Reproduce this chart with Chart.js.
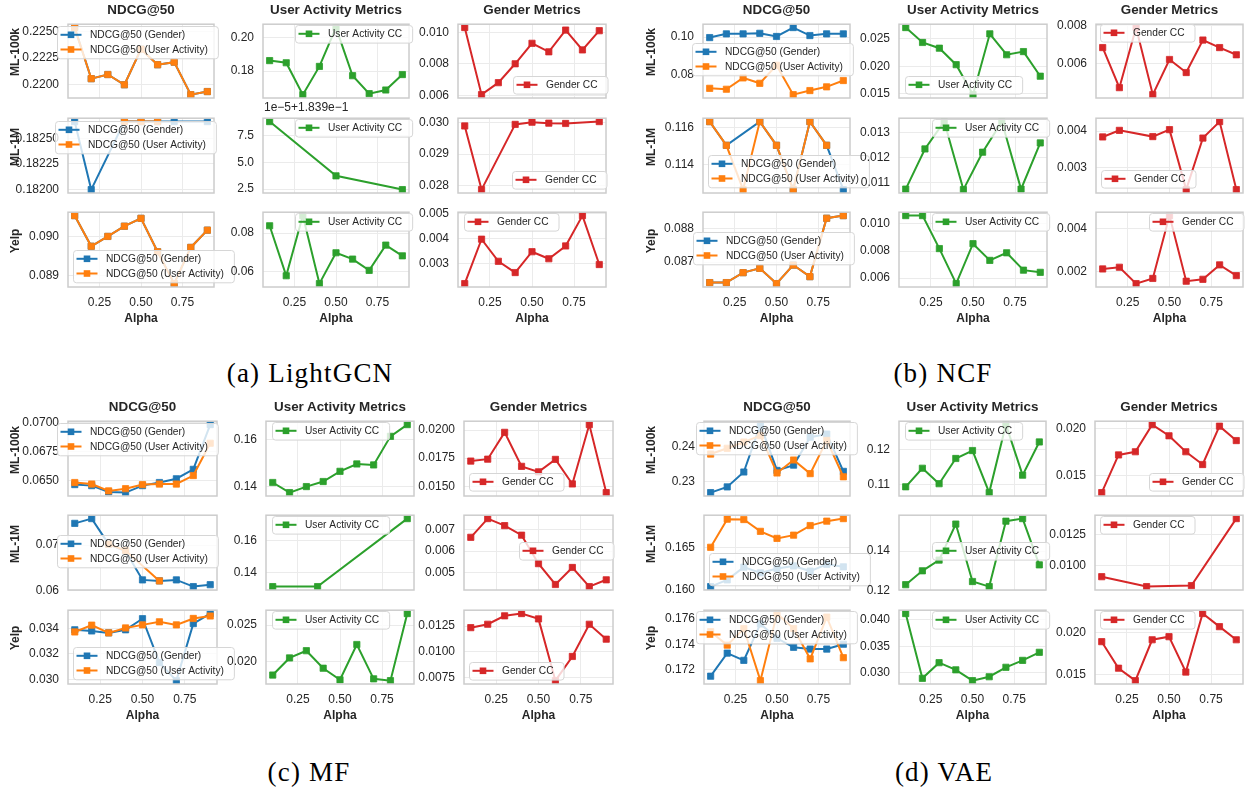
<!DOCTYPE html>
<html>
<head>
<meta charset="utf-8">
<script src="https://cdn.jsdelivr.net/npm/chart.js@4.4.1/dist/chart.umd.min.js"></script>
<style>
body { margin: 0; background: #fff; }
#fig { position: relative; width: 1247px; height: 788px; overflow: hidden; font-family: "Liberation Sans", Arial, sans-serif; color: #262626; }
#fig canvas { position: absolute; }
.t { position: absolute; white-space: nowrap; transform: translate(-50%, -50%); }
.title { font-weight: bold; font-size: 13.4px; }
.row { font-weight: bold; font-size: 12px; transform: translate(-50%, -50%) rotate(-90deg); }
.xl { font-weight: bold; font-size: 12px; }
.cap { font-family: "Liberation Serif", serif; font-size: 27px; letter-spacing: 1.2px; color: #000; }
.off { position: absolute; font-size: 12px; white-space: nowrap; transform: translateY(-50%); }
</style>
</head>
<body>
<div id="fig"></div>
<script>
// x values (alpha)
const alpha = [0.1, 0.2, 0.3, 0.4, 0.5, 0.6, 0.7, 0.8, 0.9]
const alphaThree = [0.1, 0.5, 0.9]
const alphaSparse = [0.1, 0.3667, 0.9]
const alphaEight = [0.1, 0.2143, 0.3286, 0.4429, 0.5571, 0.6714, 0.7857, 0.9]
const alphaFour = [0.1, 0.3667, 0.6333, 0.9]
const xTicks = [0.25, 0.5, 0.75]
const xTickLabels = ["0.25", "0.50", "0.75"]

const datasetNames = ["ML-100k", "ML-1M", "Yelp"]
const columnTitles = ["NDCG@50", "User Activity Metrics", "Gender Metrics"]
const modelNames = ["(a) LightGCN", "(b) NCF", "(c) MF", "(d) VAE"]

// ---- LightGCN
const lgcnMl100kNdcgGender = [0.22537, 0.22057, 0.22096, 0.22000, 0.22334, 0.22188, 0.22212, 0.21907, 0.21936]
const lgcnMl100kNdcgActivity = [0.22537, 0.22057, 0.22096, 0.22000, 0.22334, 0.22188, 0.22212, 0.21907, 0.21936]
const lgcnMl100kActivityCC = [0.1863, 0.1850, 0.1658, 0.1828, 0.2062, 0.1772, 0.1664, 0.1686, 0.1779]
const lgcnMl100kGenderCC = [0.0103, 0.00604, 0.0068, 0.0080, 0.0093, 0.00876, 0.01014, 0.00888, 0.0101]
const lgcnMl1mNdcgGender = [0.182662, 0.182000, null, 0.182662, 0.182662, 0.182662, 0.182662, null, 0.182662]
const lgcnMl1mNdcgActivity = [null, null, null, 0.182662, 0.182662, 0.182662, null, null, null]
const lgcnMl1mActivityCC = [0.1839882, 0.1839374, 0.1839245]
const lgcnMl1mGenderCC = [0.0299, 0.02786, null, 0.02995, 0.03002, 0.02999, 0.02998, null, 0.03004]
const lgcnYelpNdcgGender = [0.09053, 0.08975, 0.0900, 0.09026, 0.09046, 0.08961, 0.0888, 0.08972, 0.09016]
const lgcnYelpNdcgActivity = [0.09053, 0.08975, 0.0900, 0.09026, 0.09046, 0.08961, 0.0888, 0.08972, 0.09016]
const lgcnYelpActivityCC = [0.0838, 0.0577, 0.0891, 0.0536, 0.0697, 0.0664, 0.0605, 0.0737, 0.0681]
const lgcnYelpGenderCC = [0.0022, 0.00397, 0.00309, 0.00264, 0.00347, 0.00319, 0.0037, 0.00491, 0.00296]

// ---- NCF
const ncfMl100kNdcgGender = [0.0997, 0.1017, 0.1017, 0.1020, 0.1003, 0.1051, 0.1008, 0.1017, 0.1017]
const ncfMl100kNdcgActivity = [0.0724, 0.0719, 0.0780, 0.0751, 0.0848, 0.0690, 0.0712, 0.0732, 0.0766]
const ncfMl100kActivityCC = [0.02697, 0.02428, 0.02325, 0.02028, 0.01488, 0.02584, 0.02207, 0.02264, 0.0182]
const ncfMl100kGenderCC = [0.00684, 0.00472, 0.0079, 0.00435, 0.00621, 0.00552, 0.00724, 0.00684, 0.00646]
const ncfMl1mNdcgGender = [0.11634, 0.11505, null, 0.11634, 0.11505, 0.11264, 0.11634, 0.11505, 0.11264]
const ncfMl1mNdcgActivity = [0.11634, 0.11505, 0.11264, 0.11634, 0.11505, 0.11264, 0.11634, 0.11505, null]
const ncfMl1mActivityCC = [0.01075, 0.01235, 0.01344, 0.01073, 0.01222, 0.01344, 0.01075, 0.01259]
const ncfMl1mGenderCC = [0.00384, 0.00402, null, 0.00385, 0.00404, 0.0024, 0.00381, 0.00426, 0.0024]
const ncfYelpNdcgGender = [0.08638, 0.08638, 0.08668, 0.08681, 0.08635, 0.08691, 0.08656, 0.08832, 0.0884]
const ncfYelpNdcgActivity = [0.08638, 0.08638, 0.08668, 0.08681, 0.08635, 0.08691, 0.08656, 0.08832, 0.0884]
const ncfYelpActivityCC = [0.01061, 0.01061, 0.00818, 0.0056, 0.00854, 0.00731, 0.00787, 0.00659, 0.00643]
const ncfYelpGenderCC = [0.00213, 0.00221, 0.00145, 0.00169, 0.00461, 0.00156, 0.00165, 0.00232, 0.00182]

// ---- MF
const mfMl100kNdcgGender = [0.06462, 0.06453, 0.06398, 0.06392, 0.06453, 0.0648, 0.06513, 0.06595, 0.06986]
const mfMl100kNdcgActivity = [0.0648, 0.06467, 0.06407, 0.06426, 0.06462, 0.06467, 0.06467, 0.06541, 0.06823]
const mfMl100kActivityCC = [0.14174, 0.13744, 0.14, 0.14215, 0.14649, 0.14961, 0.1492, 0.16137, 0.16636]
const mfMl100kGenderCC = [0.01724, 0.01741, 0.0198, 0.01677, 0.01628, 0.01739, 0.0152, 0.02049, 0.01443]
const mfMl1mNdcgGender = [0.0748, 0.07585, 0.07021, 0.06867, 0.06233, 0.06211, 0.06233, 0.06085, 0.06127]
const mfMl1mNdcgActivity = [null, null, 0.0702, 0.0688, null, 0.0621, null, null, null]
const mfMl1mActivityCC = [0.1314, 0.1314, 0.174]
const mfMl1mGenderCC = [0.00665, 0.00753, 0.0072, 0.00675, 0.00541, 0.00443, 0.00523, 0.00433, 0.00465]
const mfYelpNdcgGender = [0.03388, 0.03379, 0.03364, 0.03388, 0.03474, 0.03133, 0.02993, 0.03436, 0.03514]
const mfYelpNdcgActivity = [0.03371, 0.03424, 0.03364, 0.03402, 0.03426, 0.0345, 0.03426, 0.03476, 0.03495]
const mfYelpActivityCC = [0.01817, 0.02051, 0.0215, 0.0191, 0.01752, 0.02235, 0.01765, 0.0174, 0.02659]
const mfYelpGenderCC = [0.01235, 0.01268, 0.0135, 0.01372, 0.0132, 0.0072, 0.00955, 0.01268, 0.01123]

// ---- VAE
const vaeMl100kNdcgGender = [0.22681, 0.22845, 0.23273, 0.24636, 0.23318, 0.23471, 0.24273, 0.24363, 0.23291]
const vaeMl100kNdcgActivity = [0.2379, 0.23955, 0.24136, 0.24318, 0.23245, 0.23618, 0.23227, 0.24182, 0.23136]
const vaeMl100kActivityCC = [0.1094, 0.11464, 0.11027, 0.1174, 0.11964, 0.10776, 0.12697, 0.11268, 0.12206]
const vaeMl100kGenderCC = [0.0132, 0.01721, 0.01755, 0.02044, 0.01925, 0.01755, 0.01619, 0.02027, 0.01874]
const vaeMl1mNdcgGender = [0.16037, 0.16116, 0.16266, 0.16199, 0.1625, 0.1628, 0.1622, 0.1630, 0.1627]
const vaeMl1mNdcgActivity = [0.165, 0.16831, 0.16827, 0.16688, 0.16605, 0.16643, 0.16756, 0.16808, 0.16838]
const vaeMl1mActivityCC = [0.12293, 0.13, 0.13546, 0.1538, 0.12454, 0.12195, 0.15527, 0.15659, 0.13302]
const vaeMl1mGenderCC = [0.0091, 0.0083, 0.00838, 0.01379]
const vaeYelpNdcgGender = [0.17148, 0.1733, 0.17273, 0.1756, 0.17447, 0.17376, 0.17362, 0.17362, 0.174]
const vaeYelpNdcgActivity = [0.17499, 0.17393, 0.17524, 0.17113, 0.17642, 0.17524, 0.17285, 0.17614, 0.17294]
const vaeYelpActivityCC = [0.04119, 0.02892, 0.03188, 0.03053, 0.02848, 0.02922, 0.03101, 0.03232, 0.03385]
const vaeYelpGenderCC = [0.01895, 0.01575, 0.01425, 0.01918, 0.01955, 0.01529, 0.02234, 0.02076, 0.01918]

// y tick labels, [row][column]
const lgcnTickLabels = [
  [["0.2200", "0.2225", "0.2250"], ["0.18", "0.20"], ["0.006", "0.008", "0.010"]],
  [["0.18200", "0.18225", "0.18250"], ["2.5", "5.0", "7.5"], ["0.028", "0.029", "0.030"]],
  [["0.089", "0.090"], ["0.06", "0.08"], ["0.003", "0.004", "0.005"]]
]
const ncfTickLabels = [
  [["0.08", "0.10"], ["0.015", "0.020", "0.025"], ["0.006", "0.008"]],
  [["0.114", "0.116"], ["0.011", "0.012", "0.013"], ["0.003", "0.004"]],
  [["0.087", "0.088"], ["0.006", "0.008", "0.010"], ["0.002", "0.004"]]
]
const mfTickLabels = [
  [["0.0650", "0.0675", "0.0700"], ["0.14", "0.16"], ["0.0150", "0.0175", "0.0200"]],
  [["0.06", "0.07"], ["0.14", "0.16"], ["0.005", "0.006", "0.007"]],
  [["0.030", "0.032", "0.034"], ["0.020", "0.025"], ["0.0075", "0.0100", "0.0125"]]
]
const vaeTickLabels = [
  [["0.23", "0.24"], ["0.11", "0.12"], ["0.015", "0.020"]],
  [["0.160", "0.165"], ["0.12", "0.14"], ["0.0100", "0.0125"]],
  [["0.172", "0.174", "0.176"], ["0.030", "0.035", "0.040"], ["0.015", "0.020"]]
]

function s(xs, ys) { return { xs: xs, ys: ys } }

let allRows = [
  [
    [s(alpha, lgcnMl100kNdcgGender), s(alpha, lgcnMl100kNdcgActivity), s(alpha, lgcnMl100kActivityCC), s(alpha, lgcnMl100kGenderCC)],
    [s(alpha, lgcnMl1mNdcgGender), s(alpha, lgcnMl1mNdcgActivity), s(alphaThree, lgcnMl1mActivityCC), s(alpha, lgcnMl1mGenderCC)],
    [s(alpha, lgcnYelpNdcgGender), s(alpha, lgcnYelpNdcgActivity), s(alpha, lgcnYelpActivityCC), s(alpha, lgcnYelpGenderCC)]
  ],
  [
    [s(alpha, ncfMl100kNdcgGender), s(alpha, ncfMl100kNdcgActivity), s(alpha, ncfMl100kActivityCC), s(alpha, ncfMl100kGenderCC)],
    [s(alpha, ncfMl1mNdcgGender), s(alpha, ncfMl1mNdcgActivity), s(alphaEight, ncfMl1mActivityCC), s(alpha, ncfMl1mGenderCC)],
    [s(alpha, ncfYelpNdcgGender), s(alpha, ncfYelpNdcgActivity), s(alpha, ncfYelpActivityCC), s(alpha, ncfYelpGenderCC)]
  ],
  [
    [s(alpha, mfMl100kNdcgGender), s(alpha, mfMl100kNdcgActivity), s(alpha, mfMl100kActivityCC), s(alpha, mfMl100kGenderCC)],
    [s(alpha, mfMl1mNdcgGender), s(alpha, mfMl1mNdcgActivity), s(alphaSparse, mfMl1mActivityCC), s(alpha, mfMl1mGenderCC)],
    [s(alpha, mfYelpNdcgGender), s(alpha, mfYelpNdcgActivity), s(alpha, mfYelpActivityCC), s(alpha, mfYelpGenderCC)]
  ],
  [
    [s(alpha, vaeMl100kNdcgGender), s(alpha, vaeMl100kNdcgActivity), s(alpha, vaeMl100kActivityCC), s(alpha, vaeMl100kGenderCC)],
    [s(alpha, vaeMl1mNdcgGender), s(alpha, vaeMl1mNdcgActivity), s(alpha, vaeMl1mActivityCC), s(alphaFour, vaeMl1mGenderCC)],
    [s(alpha, vaeYelpNdcgGender), s(alpha, vaeYelpNdcgActivity), s(alpha, vaeYelpActivityCC), s(alpha, vaeYelpGenderCC)]
  ]
]
let allTicks = [lgcnTickLabels, ncfTickLabels, mfTickLabels, vaeTickLabels]

// layout (figure pixels)
const quadCols = [
  [[68, 214], [263, 409], [458, 606]],
  [[703, 850], [899, 1047], [1096, 1243]],
  [[68, 217], [266, 414], [464, 613]],
  [[704, 850], [899, 1046], [1095, 1243]]
]
const quadRowsTop = [[20, 98], [114, 193], [208, 287]]
const quadRowsBottom = [[417, 496], [511, 590], [606, 684]]
const legendPos = [
  [[[57, 26], [295, 25], [513, 76]], [[55, 121], [295, 119], [512, 171]], [[73, 250], [295, 213], [464, 213]]],
  [[[692, 43], [905, 76], [1100, 24]], [[708, 155], [932, 119], [1101, 170]], [[693, 232], [932, 213], [1149, 213]]],
  [[[57, 423], [272, 422], [469, 473]], [[57, 535], [272, 516], [519, 542]], [[73, 647], [272, 611], [469, 662]]],
  [[[696, 422], [905, 422], [1149, 473]], [[709, 553], [932, 542], [1100, 516]], [[696, 611], [932, 611], [1100, 611]]]
]
const rowLabelX = [15, 651, 15, 651]
const captionPos = [[310, 373], [943, 373], [309, 772], [944, 772]]

const BLUE = "#1f77b4", ORANGE = "#ff7f0e", GREEN = "#2ca02c", RED = "#d62728"
const INK = "#262626"
const FONT = '"Liberation Sans", Arial, sans-serif'
const L = 58, R = 22, T = 12, B = 30

let fig = document.getElementById("fig")

function addText(cls, text, x, y) {
  let d = document.createElement("div")
  d.className = cls
  d.textContent = text
  d.style.left = x + "px"
  d.style.top = y + "px"
  fig.appendChild(d)
  return d
}

let framePlugin = {
  id: "frame",
  afterDatasetsDraw(chart) {
    const a = chart.chartArea, ctx = chart.ctx
    ctx.save()
    ctx.strokeStyle = "#cccccc"
    ctx.lineWidth = 1.5
    ctx.strokeRect(a.left, a.top, a.right - a.left, a.bottom - a.top)
    ctx.restore()
  }
}

function legendPlugin(entries, lx, ly) {
  return {
    id: "boxLegend",
    afterDraw(chart) {
      const ctx = chart.ctx
      ctx.save()
      ctx.font = "10.2px " + FONT
      let tw = Math.max(...entries.map(e => ctx.measureText(e.label).width))
      let w = 38 + tw + 5, h = 17.6 + (entries.length - 1) * 14.7, r = 3
      let x = lx + 0.5, y = ly + 0.5
      ctx.beginPath()
      ctx.moveTo(x + r, y)
      ctx.lineTo(x + w - r, y)
      ctx.arcTo(x + w, y, x + w, y + r, r)
      ctx.lineTo(x + w, y + h - r)
      ctx.arcTo(x + w, y + h, x + w - r, y + h, r)
      ctx.lineTo(x + r, y + h)
      ctx.arcTo(x, y + h, x, y + h - r, r)
      ctx.lineTo(x, y + r)
      ctx.arcTo(x, y, x + r, y, r)
      ctx.closePath()
      ctx.fillStyle = "rgba(255,255,255,0.8)"
      ctx.fill()
      ctx.strokeStyle = "#d6d6d6"
      ctx.lineWidth = 1
      ctx.stroke()
      entries.forEach((e, i) => {
        let cy = ly + 8.8 + i * 14.7
        ctx.strokeStyle = e.color
        ctx.lineWidth = 2
        ctx.beginPath()
        ctx.moveTo(lx + 3.5, cy)
        ctx.lineTo(lx + 24.5, cy)
        ctx.stroke()
        ctx.fillStyle = e.color
        ctx.fillRect(lx + 14 - 3.3, cy - 3.3, 6.6, 6.6)
        ctx.fillStyle = INK
        ctx.textBaseline = "middle"
        ctx.fillText(e.label, lx + 33, cy + 0.5)
      })
      ctx.restore()
    }
  }
}

function drawPanel(m, r, c) {
  const [x0, x1] = quadCols[m][c]
  const [y0, y1] = (m < 2 ? quadRowsTop : quadRowsBottom)[r]
  const W = x1 - x0 + L + R, H = y1 - y0 + T + B
  let cv = document.createElement("canvas")
  cv.width = W
  cv.height = H
  cv.style.width = W + "px"
  cv.style.height = H + "px"
  cv.style.left = (x0 - L) + "px"
  cv.style.top = (y0 - T) + "px"
  fig.appendChild(cv)

  const row = allRows[m][r]
  let series
  if (c == 0) {
    series = [
      { label: "NDCG@50 (Gender)", color: BLUE, d: row[0], order: 2 },
      { label: "NDCG@50 (User Activity)", color: ORANGE, d: row[1], order: 1 }
    ]
  } else if (c == 1) {
    series = [{ label: "User Activity CC", color: GREEN, d: row[2], order: 1 }]
  } else {
    series = [{ label: "Gender CC", color: RED, d: row[3], order: 1 }]
  }

  // offset notation on LightGCN / ML-1M / user activity
  const isOffset = (m == 0 && r == 1 && c == 1)
  const offBase = 0.1839, offScale = 1e-5
  const labels = allTicks[m][r][c]
  const tickVals = labels.map(t => isOffset ? offBase + parseFloat(t) * offScale : parseFloat(t))

  let xs = [], ys = []
  series.forEach(sr => sr.d.ys.forEach((v, i) => { if (v !== null) { ys.push(v); xs.push(sr.d.xs[i]) } }))
  const ylo = Math.min(...ys), yhi = Math.max(...ys)
  const xlo = Math.min(...xs), xhi = Math.max(...xs)
  const yp = (yhi - ylo) * 0.05, xp = (xhi - xlo) * 0.05

  const lp = legendPos[m][r][c]
  const entries = series.map(sr => ({ label: sr.label, color: sr.color }))

  new Chart(cv, {
    type: "line",
    data: {
      datasets: series.map(sr => ({
        label: sr.label,
        data: sr.d.xs.map((x, i) => ({ x: x, y: sr.d.ys[i] })).filter(p => p.y !== null),
        borderColor: sr.color,
        backgroundColor: sr.color,
        pointBackgroundColor: sr.color,
        pointBorderColor: sr.color,
        borderWidth: 2,
        pointStyle: "rect",
        pointRadius: 4.4,
        pointBorderWidth: 0.8,
        tension: 0,
        order: sr.order
      }))
    },
    options: {
      responsive: false,
      animation: false,
      devicePixelRatio: 1,
      events: [],
      layout: { padding: { left: 0, right: R, top: T, bottom: 0 }, autoPadding: false },
      plugins: { legend: { display: false }, tooltip: { enabled: false } },
      scales: {
        x: {
          type: "linear",
          min: xlo - xp,
          max: xhi + xp,
          afterBuildTicks: sc => { sc.ticks = xTicks.map(v => ({ value: v })) },
          afterFit: sc => { sc.height = B },
          grid: { color: "#ebebeb", lineWidth: 1, drawTicks: false },
          border: { display: false },
          ticks: {
            display: r == 2,
            autoSkip: false,
            maxRotation: 0,
            padding: 8,
            color: INK,
            font: { family: FONT, size: 12 },
            callback: (v, i) => xTickLabels[i]
          }
        },
        y: {
          type: "linear",
          min: ylo - yp,
          max: yhi + yp,
          afterBuildTicks: sc => { sc.ticks = tickVals.map(v => ({ value: v })) },
          afterFit: sc => { sc.width = L },
          grid: { color: "#ebebeb", lineWidth: 1, drawTicks: false },
          border: { display: false },
          ticks: {
            autoSkip: false,
            padding: 9,
            color: INK,
            font: { family: FONT, size: 12 },
            callback: (v, i) => labels[i]
          }
        }
      }
    },
    plugins: [framePlugin, legendPlugin(entries, lp[0] - (x0 - L), lp[1] - (y0 - T))]
  })

  if (isOffset) {
    addText("off", "1e\u22125+1.839e\u22121", x0 + 1, y0 - 7)
  }
}

for (let m = 0; m < 4; m++) {
  for (let r = 0; r < 3; r++) {
    for (let c = 0; c < 3; c++) {
      drawPanel(m, r, c)
    }
  }
  const rows = m < 2 ? quadRowsTop : quadRowsBottom
  for (let c = 0; c < 3; c++) {
    const [x0, x1] = quadCols[m][c]
    addText("t title", columnTitles[c], (x0 + x1) / 2, rows[0][0] - 11)
    addText("t xl", "Alpha", (x0 + x1) / 2, rows[2][1] + 31)
  }
  for (let r = 0; r < 3; r++) {
    addText("t row", datasetNames[r], rowLabelX[m], (rows[r][0] + rows[r][1]) / 2 - 7)
  }
  addText("t cap", modelNames[m], captionPos[m][0], captionPos[m][1])
}
</script>
</body>
</html>
